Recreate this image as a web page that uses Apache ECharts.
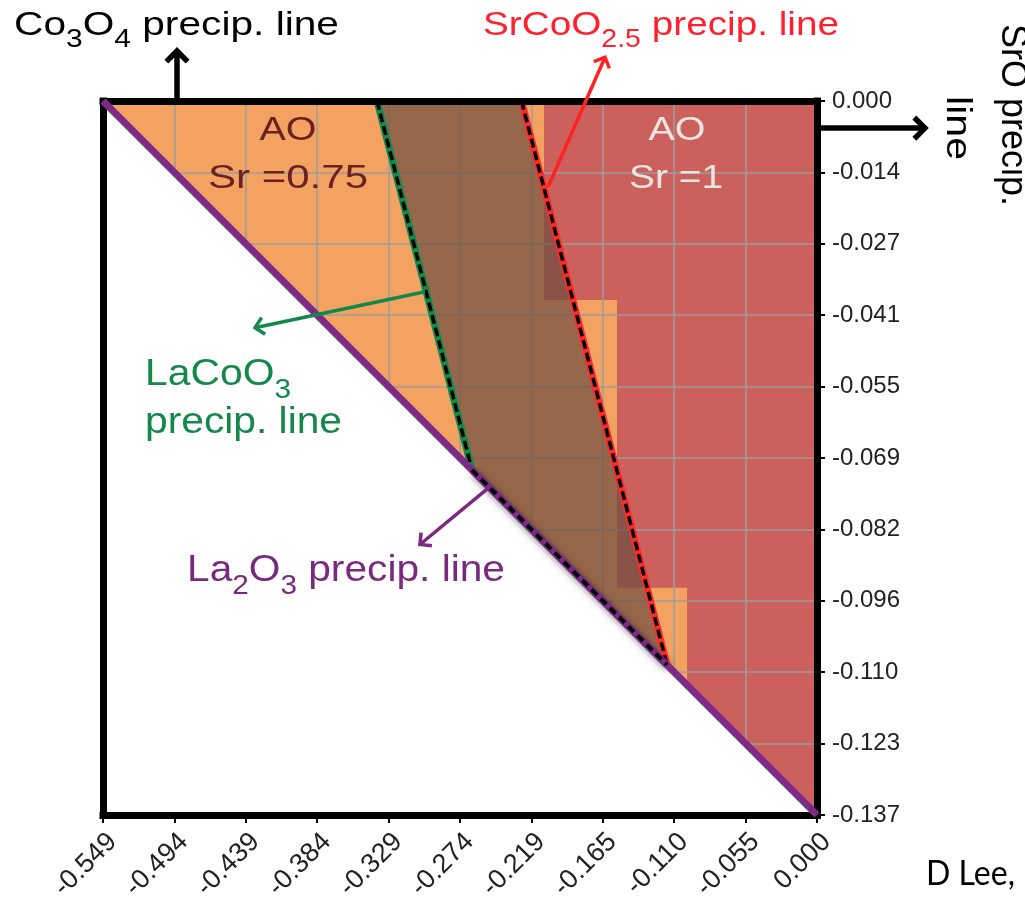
<!DOCTYPE html>
<html><head><meta charset="utf-8">
<script src="https://cdn.jsdelivr.net/npm/echarts@6/dist/echarts.min.js"></script>
<style>html,body{margin:0;padding:0;background:#fff}#c{width:1025px;height:901px}</style>
</head><body><div id="c"></div>
<script>
// ---------- data (chemical potentials, eV) ----------
const xTickLabels = ['-0.549','-0.494','-0.439','-0.384','-0.329','-0.274','-0.219','-0.165','-0.110','-0.055','0.000'];
const yTickLabels = ['0.000','-0.014','-0.027','-0.041','-0.055','-0.069','-0.082','-0.096','-0.110','-0.123','-0.137'];
const X_MIN = -0.549, X_MAX = 0, X_STEP = 0.0549;
const Y_MIN = -0.137, Y_MAX = 0, Y_STEP = 0.0137;

const ao075Region   = [[-0.549,0],[0,0],[0,-0.137]];
const ao1Region     = [[-0.2099,0],[0,0],[0,-0.137],[-0.0999,-0.1121],[-0.0999,-0.0934],[-0.1538,-0.0934],[-0.1538,-0.0382],[-0.2099,-0.0382]];
const stableBand    = [[-0.3383,0],[-0.2272,0],[-0.1153,-0.1082],[-0.2653,-0.0708]];
const excludedRegion= [[-0.549,0],[-0.549,-0.137],[0,-0.137]];
const la2o3Line     = [[-0.549,0],[0,-0.137]];
const lacoo3Line    = [[-0.3383,0],[-0.2653,-0.0708]];
const srcoo25Line   = [[-0.2272,0],[-0.1153,-0.1082]];
const bandBottom    = [[-0.2653,-0.0708],[-0.1153,-0.1082]];

// annotation arrows (data coordinates: tail -> head)
const arrowNotes = [
  {from:[-0.4921,0],        to:[-0.4921,0.0096],  color:'#000000', width:5.5, head:15},
  {from:[0,-0.0052],        to:[0.0830,-0.0052],  color:'#000000', width:5.5, head:15},
  {from:[-0.2068,-0.0165],  to:[-0.1630,0.0084],  color:'#FF2222', width:3.5, head:12},
  {from:[-0.3014,-0.0366],  to:[-0.4321,-0.0435], color:'#12894A', width:3.5, head:12},
  {from:[-0.2514,-0.0740],  to:[-0.3053,-0.0851], color:'#7A2A80', width:3.5, head:12}
];

// ---------- helpers ----------
const FONT = '"Liberation Sans", Arial, sans-serif';
const mctx = document.createElement('canvas').getContext('2d');
function textWidth(s, fs, fam){ mctx.font = fs + 'px ' + (fam || FONT); return mctx.measureText(s).width; }

function subText(n){
  const subFs = Math.round(n.fs * 0.73);
  const pad = 28 * n.fs / 33;
  let str = '', nat = 0;
  n.segs.forEach(([t, isSub]) => { str += '{' + (isSub ? 's' : 'm') + '|' + t + '}'; nat += textWidth(t, isSub ? subFs : n.fs); });
  return {
    type:'text', x:n.x, y:n.base - 0.3465 * n.fs, scaleX:n.w / nat, z:100,
    style:{ text:str, align:'left', verticalAlign:'middle', textAlign:'left', textVerticalAlign:'middle',
      fill:n.color, font: n.fs + 'px ' + FONT,
      rich:{ m:{fontSize:n.fs, fontFamily:FONT, fill:n.color, color:n.color},
             s:{fontSize:subFs, fontFamily:FONT, fill:n.color, color:n.color, padding:[pad,0,0,0]} } }
  };
}
function plainText(n){
  const fam = n.fam || FONT;
  const nat = textWidth(n.text, n.fs, fam);
  return {
    type:'text', x:n.cx, y:n.cy, scaleX:n.w / nat, rotation:n.rot || 0, z:100,
    style:{ text:n.text, align:n.align || 'center', verticalAlign:'middle', textAlign:n.align || 'center', textVerticalAlign:'middle',
      fill:n.color, fontSize:n.fs, fontFamily:fam, font:n.fs + 'px ' + fam }
  };
}

const subNotes = [
  {segs:[['Co',0],['3',1],['O',0],['4',1],[' precip. line',0]], x:14,  base:37,  w:325, fs:34, color:'#000000'},
  {segs:[['SrCoO',0],['2.5',1],[' precip. line',0]],             x:483, base:37,  w:356, fs:34, color:'#FF1F2D'},
  {segs:[['LaCoO',0],['3',1]],                                     x:145, base:388, w:146, fs:37, color:'#14884B'},
  {segs:[['precip. line',0]],                                      x:145, base:436, w:197, fs:37, color:'#14884B'},
  {segs:[['La',0],['2',1],['O',0],['3',1],[' precip. line',0]],  x:187, base:584, w:318, fs:37, color:'#7A2A7E'}
];
const plainNotes = [
  {text:'AO',       cx:288, cy:131, w:57,  fs:33, color:'#6B2121'},
  {text:'Sr =0.75', cx:288, cy:179, w:160, fs:33, color:'#6B2121'},
  {text:'AO',       cx:677, cy:131, w:57,  fs:33, color:'#E9E5E2'},
  {text:'Sr =1',    cx:676, cy:179, w:94,  fs:33, color:'#E9E5E2'},
  {text:'SrO precip.', cx:1012, cy:115, w:182, fs:37, color:'#000000', rot:-Math.PI/2},
  {text:'line',        cx:957,  cy:128, w:64,  fs:35, color:'#000000', rot:-Math.PI/2},
  {text:'D Lee,', cx:926, cy:874, w:89, fs:34, color:'#000000', align:'left', fam:'Lato, "Open Sans", sans-serif'}
];

function polySeries(pts, fill, z, extra){
  return { type:'custom', coordinateSystem:'cartesian2d', xAxisIndex:0, yAxisIndex:0, z:z, silent:true,
    data:[pts[0]],
    renderItem:(p, api) => ({ type:'polygon', shape:{points: pts.map(q => api.coord(q))}, style:Object.assign({fill:fill}, extra || {}) }) };
}
function lineSeries(pts, color, width, z, dash, extra){
  return { type:'line', data:pts, xAxisIndex:0, yAxisIndex:0, z:z, clip:false, silent:true, showSymbol:false, symbol:'none',
    lineStyle:Object.assign({color:color, width:width, type: dash || 'solid', cap:'butt'}, extra || {}) };
}

const borderAxisLine = {show:true, onZero:false, lineStyle:{color:'#000000', width:7, cap:'square'}};

const option = {
  animation:false,
  backgroundColor:'#ffffff',
  grid:{left:103, top:101, width:714, height:714, containLabel:false, outerBoundsMode:'none'},
  xAxis:[
    {type:'value', position:'bottom', min:X_MIN, max:X_MAX, interval:X_STEP, z:1,
      axisLine:{show:false, onZero:false},
      axisTick:{show:true, length:8, lineStyle:{color:'#000', width:2}},
      axisLabel:{rotate:45, margin:13, verticalAlign:'top', showMinLabel:true, showMaxLabel:true,
        fontFamily:FONT, fontSize:27, color:'#222222',
        formatter:v => xTickLabels[Math.round((v - X_MIN) / X_STEP)] || ''},
      splitLine:{show:true, lineStyle:{color:'#9C9C9C', width:1.5}}},
    {type:'value', position:'top', min:X_MIN, max:X_MAX, interval:X_STEP, z:10,
      axisLine:borderAxisLine, axisTick:{show:false}, axisLabel:{show:false}, splitLine:{show:false}},
    {type:'value', position:'bottom', min:X_MIN, max:X_MAX, interval:X_STEP, z:10,
      axisLine:borderAxisLine, axisTick:{show:false}, axisLabel:{show:false}, splitLine:{show:false}}
  ],
  yAxis:[
    {type:'value', position:'right', min:Y_MIN, max:Y_MAX, interval:Y_STEP, z:1,
      axisLine:{show:false, onZero:false},
      axisTick:{show:true, length:8, lineStyle:{color:'#000', width:2}},
      axisLabel:{margin:15, showMinLabel:true, showMaxLabel:true,
        fontFamily:FONT, fontSize:24, color:'#222222',
        formatter:v => yTickLabels[Math.round((Y_MAX - v) / Y_STEP)] || ''},
      splitLine:{show:true, lineStyle:{color:'#9C9C9C', width:1.5}}},
    {type:'value', position:'left', min:Y_MIN, max:Y_MAX, interval:Y_STEP, z:10,
      axisLine:borderAxisLine, axisTick:{show:false}, axisLabel:{show:false}, splitLine:{show:false}},
    {type:'value', position:'right', min:Y_MIN, max:Y_MAX, interval:Y_STEP, z:10,
      axisLine:borderAxisLine, axisTick:{show:false}, axisLabel:{show:false}, splitLine:{show:false}}
  ],
  series:[
    polySeries(ao075Region, '#F4A262', 0),
    polySeries(ao1Region, '#CC605D', 0),
    polySeries(stableBand, 'rgba(110,78,64,0.70)', 2),
    polySeries(excludedRegion, '#FFFFFF', 3),
    lineSeries(bandBottom, '#7B2A85', 7, 4, 'solid', {shadowBlur:7, shadowColor:'rgba(0,0,0,0.5)', shadowOffsetX:2, shadowOffsetY:3}),
    lineSeries(lacoo3Line, '#0F8B4B', 7, 5),
    lineSeries(lacoo3Line, '#000000', 3.5, 6, [9,4]),
    lineSeries(srcoo25Line, '#FF2A2A', 7, 5),
    lineSeries(srcoo25Line, '#000000', 3.5, 6, [9,4]),
    lineSeries(la2o3Line, '#7B2A85', 7, 11),
    lineSeries(bandBottom, '#000000', 4, 12, [8,5]),
    { type:'custom', coordinateSystem:'cartesian2d', xAxisIndex:0, yAxisIndex:0, z:20, silent:true,
      data: arrowNotes.map(a => a.from),
      renderItem:(p, api) => {
        const a = arrowNotes[p.dataIndex];
        const s = api.coord(a.from), e = api.coord(a.to);
        const ang = Math.atan2(e[1] - s[1], e[0] - s[0]);
        const h = Math.PI / 4, L = a.head;
        const l = [e[0] - L * Math.cos(ang - h), e[1] - L * Math.sin(ang - h)];
        const r = [e[0] - L * Math.cos(ang + h), e[1] - L * Math.sin(ang + h)];
        return { type:'group', children:[
          {type:'line', shape:{x1:s[0], y1:s[1], x2:e[0], y2:e[1]}, style:{stroke:a.color, lineWidth:a.width}},
          {type:'polyline', shape:{points:[l, e, r]}, style:{stroke:a.color, lineWidth:a.width, fill:null, lineJoin:'miter'}}
        ]};
      }
    }
  ],
  graphic: subNotes.map(subText).concat(plainNotes.map(plainText))
};

const chart = echarts.init(document.getElementById('c'), null, {renderer:'canvas'});
chart.setOption(option);
</script>
</body></html>
